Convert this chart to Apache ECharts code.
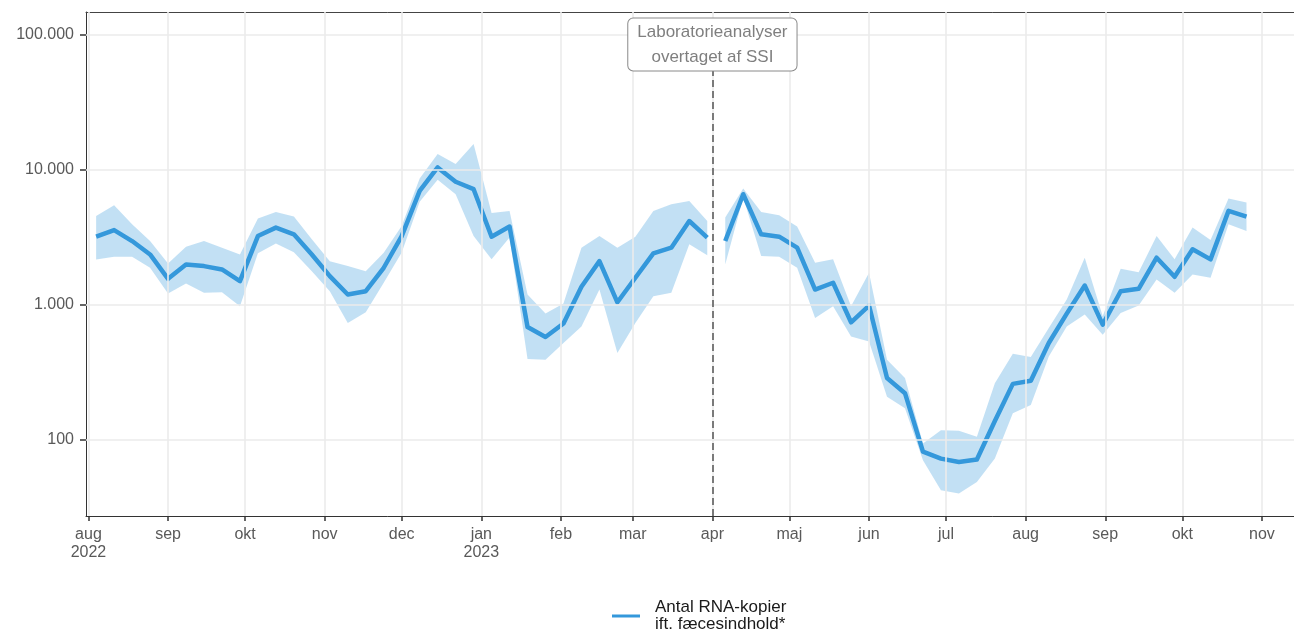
<!DOCTYPE html>
<html>
<head>
<meta charset="utf-8">
<script src="https://cdn.jsdelivr.net/npm/echarts@6/dist/echarts.min.js"></script>
<style>
html,body{margin:0;padding:0;background:#fff;}
#chart{width:1294px;height:632px;}
</style>
</head>
<body>
<div id="chart"></div>
<script>
// ---------- data ----------
const dates = [
 '2022-08-04','2022-08-11','2022-08-18','2022-08-25','2022-09-01','2022-09-08','2022-09-15','2022-09-22','2022-09-29',
 '2022-10-06','2022-10-13','2022-10-20','2022-10-27','2022-11-03','2022-11-10','2022-11-17','2022-11-24',
 '2022-12-01','2022-12-08','2022-12-15','2022-12-22','2022-12-29',
 '2023-01-05','2023-01-12','2023-01-19','2023-01-26','2023-02-02','2023-02-09','2023-02-16','2023-02-23',
 '2023-03-02','2023-03-09','2023-03-16','2023-03-23','2023-03-30',
 '2023-04-06','2023-04-13','2023-04-20','2023-04-27','2023-05-04','2023-05-11','2023-05-18','2023-05-25',
 '2023-06-01','2023-06-08','2023-06-15','2023-06-22','2023-06-29',
 '2023-07-06','2023-07-13','2023-07-20','2023-07-27','2023-08-03','2023-08-10','2023-08-17','2023-08-24','2023-08-31',
 '2023-09-07','2023-09-14','2023-09-21','2023-09-28','2023-10-05','2023-10-12','2023-10-19','2023-10-26'
];
const median = [
 3190,3570,2960,2355,1553,1987,1930,1823,1492,
 3225,3725,3320,2355,1625,1187,1257,1876,
 3225,6980,10420,8150,7180,
 3190,3795,682,575,723,1355,2100,1040,
 1581,2400,2645,4170,3140,
 2960,6590,3320,3190,2645,1293,1452,739,
 984,285,220,81,72,
 68,70.8,137,258,272,519,857,1385,710,
 1257,1309,2229,1607,2570,2165,4955,4500
];
const lower = [
 2160,2265,2265,1875,1208,1432,1222,1235,972,
 2400,2845,2450,1770,1255,731,877,1452,
 2430,5785,8430,6590,3225,
 2165,3140,394,389,519,689,1293,437,
 731,1153,1222,2800,2320,
 1987,6240,2290,2265,1876,796,972,580,
 533,207,170,70,42,
 39.6,48.3,72,156,180,412,689,843,598,
 867,984,1535,1222,1672,1580,3950,3515
];
const upper = [
 4540,5450,3950,2960,2020,2690,2960,2645,2355,
 4345,4865,4500,3050,2100,1930,1770,2428,
 3830,8630,13090,11020,15530,
 4780,4955,1187,857,1017,2645,3225,2645,
 3190,4955,5560,5880,4170,
 4430,7280,4865,4600,3795,2040,2165,972,
 1722,389,285,93,117,
 116,104.5,261,431,408,670,1089,2229,818,
 1843,1739,3225,2165,3725,3015,6120,5710
];
const changeDate = '2023-04-01';
const monthTicks = ['2022-08-01','2022-09-01','2022-10-01','2022-11-01','2022-12-01','2023-01-01','2023-02-01',
 '2023-03-01','2023-04-01','2023-05-01','2023-06-01','2023-07-01','2023-08-01','2023-09-01','2023-10-01','2023-11-01'];
const monthLabels = ['aug\n2022','sep','okt','nov','dec','jan\n2023','feb','mar','apr','maj','jun','jul','aug','sep','okt','nov'];
const yTicks = [100, 1000, 10000, 100000];
const yLabels = ['100','1.000','10.000','100.000'];
const seriesName = 'Antal RNA-kopier\nift. fæcesindhold*';
const annotation = 'Laboratorieanalyser\novertaget af SSI';

// ---------- helpers ----------
function ts(s){ const p = s.split('-').map(Number); return Date.UTC(p[0], p[1]-1, p[2]); }
const DAY = 86400000;
const t = dates.map(ts);
const changeTs = ts(changeDate);
const monthTs = monthTicks.map(ts);
const xMin = ts('2022-08-01') - 0.95*DAY;
const xMax = ts('2022-08-01') + 469.5*DAY;

const seg1 = [], seg2 = [];
t.forEach((v,i)=>{ (v < changeTs ? seg1 : seg2).push(i); });

const lineColor = '#3498db';
const bandColor = 'rgba(52,152,219,0.3)';
const font = "'Liberation Sans', Arial, Helvetica, sans-serif";

function bandSeries(seg){
  return {
    type:'custom', name:'band', z:2, silent:true,
    data: seg.map(i=>[t[i], lower[i], upper[i]]),
    encode:{x:0, y:[1,2]},
    renderItem: function(params, api){
      if (params.dataIndex !== 0) return null;
      const pts = [];
      seg.forEach(i=>pts.push(api.coord([t[i], upper[i]])));
      for (let k = seg.length-1; k>=0; k--){ const i = seg[k]; pts.push(api.coord([t[i], lower[i]])); }
      return {type:'polygon', shape:{points:pts}, style:{fill:bandColor}};
    }
  };
}
function lineSeries(seg){
  return {
    type:'line', name:seriesName, z:4, showSymbol:false, symbol:'none',
    data: seg.map(i=>[t[i], median[i]]),
    lineStyle:{color:lineColor, width:4.5, join:'round'},
    itemStyle:{color:lineColor},
    emphasis:{disabled:true}
  };
}

const gridLineData = monthTs.map(v=>({xAxis:v})).concat(yTicks.map(v=>({yAxis:v})));

const chart = echarts.init(document.getElementById('chart'), null, {renderer:'canvas'});
chart.setOption({
  animation:false,
  textStyle:{fontFamily:font},
  grid:{left:86, right:0, top:12, bottom:116, show:false},
  legend:{
    data:[{name:seriesName, icon:'rect'}],
    left:607, top:594,
    itemWidth:28, itemHeight:3,
    textStyle:{fontSize:17, lineHeight:17, color:'#1a1a1a', fontFamily:font, padding:[0,0,0,10]},
    selectedMode:false
  },
  xAxis:[{
    type:'value', min:xMin, max:xMax,
    splitLine:{show:false},
    axisLine:{lineStyle:{color:'#333', width:1}},
    axisTick:{show:true, customValues:monthTs, length:5, lineStyle:{color:'#333', width:1.5}},
    axisLabel:{
      customValues:monthTs, margin:10, fontSize:16, lineHeight:18, color:'#595959', fontFamily:font,
      hideOverlap:false,
      formatter:function(v){ const i = monthTs.findIndex(x=>Math.abs(x-v)<1000); return i>=0 ? monthLabels[i] : ''; }
    }
  },{
    type:'value', position:'top', min:xMin, max:xMax,
    splitLine:{show:false}, axisTick:{show:false}, axisLabel:{show:false},
    axisLine:{show:true, onZero:false, lineStyle:{color:'#444', width:1}}
  }],
  yAxis:{
    type:'log', logBase:10, min:27.0, max:148200,
    splitLine:{show:false},
    axisLine:{show:true, lineStyle:{color:'#333', width:1}},
    axisTick:{show:true, customValues:yTicks, length:6, lineStyle:{color:'#333', width:1.5}},
    axisLabel:{
      customValues:yTicks, margin:12, fontSize:16, color:'#595959', fontFamily:font,
      formatter:function(v){ const i = yTicks.findIndex(x=>Math.abs(x-v)/x<1e-6); return i>=0 ? yLabels[i] : ''; }
    }
  },
  series:[
    {
      type:'line', name:'grid', z:0, silent:true, data:[], symbol:'none',
      markLine:{silent:true, symbol:['none','none'], label:{show:false},
        lineStyle:{color:'#ebebeb', width:1.6, type:'solid'}, emphasis:{disabled:true},
        data:gridLineData}
    },
    bandSeries(seg1),
    bandSeries(seg2),
    {
      type:'line', name:'change', z:5, silent:true, data:[], symbol:'none',
      markLine:{silent:true, symbol:['none','none'], label:{show:false},
        lineStyle:{color:'#7a7a7a', width:2, type:[7,4]}, emphasis:{disabled:true},
        data:[[{coord:[changeTs, 27.0]}, {coord:[changeTs, 60000]}]]}
    },
    lineSeries(seg1),
    lineSeries(seg2),
    {
      type:'line', name:'annot', z:10, silent:true, data:[], symbol:'none',
      markPoint:{
        symbol:'rect', symbolSize:1, silent:true,
        itemStyle:{color:'rgba(0,0,0,0)'},
        label:{show:true, position:'inside', formatter:annotation, color:'#7f7f7f', fontSize:17, lineHeight:25,
          fontFamily:font, backgroundColor:'#ffffff', borderColor:'#8a8a8a', borderWidth:1, borderRadius:5,
          padding:[1,9,1,9], align:'center', verticalAlign:'middle'},
        data:[{coord:[changeTs, 85000]}]
      }
    }
  ]
});
</script>
</body>
</html>
